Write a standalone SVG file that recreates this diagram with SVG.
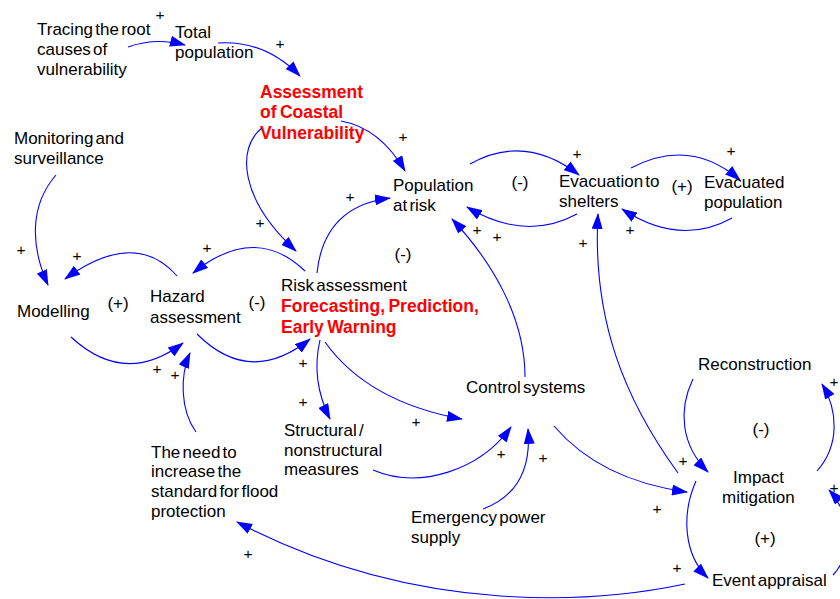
<svg xmlns="http://www.w3.org/2000/svg" width="840" height="599" viewBox="0 0 840 599">
<style>
.t{font-family:"Liberation Sans",Arial,sans-serif;font-size:17px;fill:#000;word-spacing:-2.5px}
.r{font-family:"Liberation Sans",Arial,sans-serif;font-size:17.5px;font-weight:bold;fill:#FF0000;word-spacing:-1.5px}
.p{font-family:"Liberation Sans",Arial,sans-serif;font-size:15.5px;fill:#000;text-anchor:middle}
.l{font-family:"Liberation Sans",Arial,sans-serif;font-size:17px;fill:#000;text-anchor:middle}
.c{fill:none;stroke:#0000FF;stroke-width:1.1;marker-end:url(#a)}
</style>
<defs>
<marker id="a" markerWidth="16" markerHeight="11" refX="15" refY="5.5" orient="auto" markerUnits="userSpaceOnUse">
<path d="M0,0 L16,5.5 L0,11 z" fill="#0000FF"/>
</marker>
</defs>
<rect width="840" height="599" fill="#fff"/>
<g id="connectors">
<path class="c" d="M128,47 Q155,37 185,45"/>
<path class="c" d="M218,43 Q265,40 300,76"/>
<path class="c" d="M341,121 Q380,128 405,171"/>
<path class="c" d="M262,128 C236,148 240,200 296,251"/>
<path class="c" d="M317,273 C322,225 350,203 390,198"/>
<path class="c" d="M470,164 Q525,133 579,175"/>
<path class="c" d="M577,214 Q525,242 467,207"/>
<path class="c" d="M631,168 Q690,137 740,180"/>
<path class="c" d="M732,218 Q680,247 622,209"/>
<path class="c" d="M525,377 C525,320 495,265 452,219"/>
<path class="c" d="M678,473 C625,400 592,320 598,214"/>
<path class="c" d="M554,426 Q600,480 687,492"/>
<path class="c" d="M693,379 C678,410 681,445 708,472"/>
<path class="c" d="M817,471 C840,445 838,410 822,384"/>
<path class="c" d="M833,575 C852,555 852,515 829,490"/>
<path class="c" d="M696,481 C681,515 684,555 708,578"/>
<path class="c" d="M685,584 C600,602 420,618 237,522"/>
<path class="c" d="M196,432 C180,410 180,375 190,353"/>
<path class="c" d="M71,337 Q125,387 183,343"/>
<path class="c" d="M177,276 Q135,228 65,279"/>
<path class="c" d="M56,175 C30,205 30,245 48,285"/>
<path class="c" d="M197,334 Q250,387 310,339"/>
<path class="c" d="M305,271 Q255,223 193,273"/>
<path class="c" d="M320,340 C313,370 318,395 330,419"/>
<path class="c" d="M325,342 Q368,402 462,419"/>
<path class="c" d="M373,470 C420,490 480,470 511,427"/>
<path class="c" d="M483,509 C520,495 531,465 528,429"/>
</g>
<g id="polarities">
<text class="p" x="160" y="20">+</text>
<text class="p" x="280" y="49">+</text>
<text class="p" x="403" y="142">+</text>
<text class="p" x="350" y="202">+</text>
<text class="p" x="577" y="159">+</text>
<text class="p" x="731" y="156">+</text>
<text class="p" x="477" y="235">+</text>
<text class="p" x="497" y="242">+</text>
<text class="p" x="583" y="248">+</text>
<text class="p" x="630" y="235">+</text>
<text class="p" x="21" y="255">+</text>
<text class="p" x="77" y="261">+</text>
<text class="p" x="207" y="253">+</text>
<text class="p" x="260" y="228">+</text>
<text class="p" x="157" y="374">+</text>
<text class="p" x="175" y="380">+</text>
<text class="p" x="303" y="368">+</text>
<text class="p" x="303" y="407">+</text>
<text class="p" x="416" y="427">+</text>
<text class="p" x="501" y="459">+</text>
<text class="p" x="543" y="463">+</text>
<text class="p" x="683" y="466">+</text>
<text class="p" x="657" y="514">+</text>
<text class="p" x="677" y="573">+</text>
<text class="p" x="834" y="387">+</text>
<text class="p" x="248" y="559">+</text>
<text class="p" x="834" y="493">+</text>
</g>
<g id="loops">
<text class="l" x="118" y="309">(+)</text>
<text class="l" x="257" y="308">(-)</text>
<text class="l" x="403" y="260">(-)</text>
<text class="l" x="520" y="188">(-)</text>
<text class="l" x="682" y="192">(+)</text>
<text class="l" x="761" y="435">(-)</text>
<text class="l" x="765" y="544">(+)</text>
</g>
<g id="tracing"><text class="t" x="37" y="35">Tracing the root</text><text class="t" x="37" y="55">causes of</text><text class="t" x="37" y="75">vulnerability</text></g>
<g id="total-population"><text class="t" x="175" y="38">Total</text><text class="t" x="175" y="58">population</text></g>
<g id="assessment-coastal"><text class="r" x="260" y="98">Assessment</text><text class="r" x="260" y="118">of Coastal</text><text class="r" x="260" y="139">Vulnerability</text></g>
<g id="monitoring"><text class="t" x="14" y="144">Monitoring and</text><text class="t" x="14" y="164">surveillance</text></g>
<g id="modelling"><text class="t" x="17" y="317">Modelling</text></g>
<g id="hazard"><text class="t" x="150" y="302">Hazard</text><text class="t" x="150" y="323">assessment</text></g>
<g id="risk-assessment"><text class="t" x="281" y="291">Risk assessment</text><text class="r" x="281" y="312">Forecasting, Prediction,</text><text class="r" x="281" y="333">Early Warning</text></g>
<g id="population-risk"><text class="t" x="393" y="191">Population</text><text class="t" x="393" y="211">at risk</text></g>
<g id="evacuation"><text class="t" x="559" y="187">Evacuation to</text><text class="t" x="559" y="207">shelters</text></g>
<g id="evacuated"><text class="t" x="704" y="188">Evacuated</text><text class="t" x="704" y="208">population</text></g>
<g id="control-systems"><text class="t" x="466" y="393">Control systems</text></g>
<g id="structural"><text class="t" x="284" y="436">Structural /</text><text class="t" x="284" y="456">nonstructural</text><text class="t" x="284" y="475">measures</text></g>
<g id="need-flood"><text class="t" x="151" y="458">The need to</text><text class="t" x="151" y="477">increase the</text><text class="t" x="151" y="497">standard for flood</text><text class="t" x="151" y="517">protection</text></g>
<g id="emergency"><text class="t" x="411" y="523">Emergency power</text><text class="t" x="411" y="543">supply</text></g>
<g id="reconstruction"><text class="t" x="698" y="370">Reconstruction</text></g>
<g id="impact"><text class="t" x="733" y="483">Impact</text><text class="t" x="722" y="503">mitigation</text></g>
<g id="event"><text class="t" x="712" y="586">Event appraisal</text></g>
</svg>
